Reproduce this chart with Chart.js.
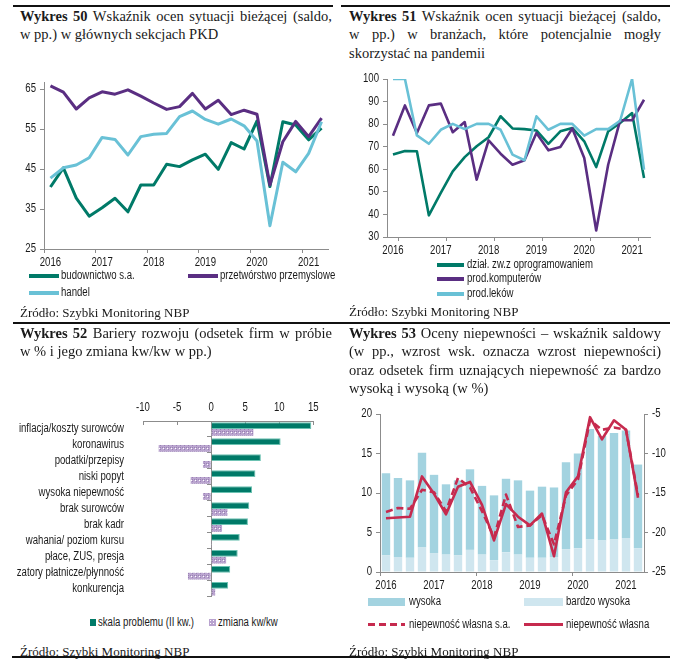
<!DOCTYPE html>
<html lang="pl">
<head>
<meta charset="utf-8">
<script src="https://cdn.jsdelivr.net/npm/chart.js@4.4.1/dist/chart.umd.min.js"></script>
<style>
  body { margin: 0; width: 684px; height: 667px; background: #fff; position: relative; overflow: hidden; }
  .rule { position: absolute; height: 1.5px; background: #111; }
  .title { position: absolute; width: 312px; font-family: 'Liberation Serif', 'Times New Roman', serif; font-size: 14.5px; line-height: 18.3px; color: #1a1a1a; }
  .title div { white-space: nowrap; }
  .title .j { text-align: justify; text-align-last: justify; }
  .src { position: absolute; font-family: 'Liberation Serif', 'Times New Roman', serif; font-size: 13px; line-height: 16px; color: #1a1a1a; white-space: nowrap; }
  .leg { position: absolute; font-family: 'Liberation Sans', Arial, sans-serif; font-size: 12px; line-height: 14px; color: #1a1a1a; white-space: nowrap; transform: scaleX(0.8); transform-origin: 0 0; }
  .sw { position: absolute; }
  canvas { position: absolute; }
</style>
</head>
<body>

<div class="rule" style="left:13px;top:5px;width:320px"></div>
<div class="rule" style="left:341px;top:5px;width:329px"></div>
<div class="rule" style="left:13px;top:322px;width:657px"></div>
<div class="rule" style="left:12px;top:656px;width:658px"></div>

<!-- Wykres 50 -->
<div class="title" style="left:20px;top:7px">
  <div class="j"><b>Wykres 50</b> Wskaźnik ocen sytuacji bieżącej (saldo,</div>
  <div>w pp.) w głównych sekcjach PKD</div>
</div>
<canvas id="c50" width="325" height="200" style="left:10px;top:70px"></canvas>
<div class="sw" style="left:29px;top:274px;width:30px;height:4px;background:#007a68"></div>
<div class="leg" style="left:61px;top:268px">budownictwo s.a.</div>
<div class="sw" style="left:188px;top:274px;width:30px;height:4px;background:#5a2e82"></div>
<div class="leg" style="left:220px;top:268px">przetwórstwo przemyslowe</div>
<div class="sw" style="left:29px;top:291px;width:30px;height:4px;background:#69c1d6"></div>
<div class="leg" style="left:61px;top:285px">handel</div>
<div class="src" style="left:20px;top:305px">Źródło: Szybki Monitoring NBP</div>

<!-- Wykres 51 -->
<div class="title" style="left:349px;top:7px">
  <div class="j"><b>Wykres 51</b> Wskaźnik ocen sytuacji bieżącej (saldo,</div>
  <div class="j">w pp.) w branżach, które potencjalnie mogły</div>
  <div>skorzystać na pandemii</div>
</div>
<canvas id="c51" width="310" height="195" style="left:345px;top:65px"></canvas>
<div class="sw" style="left:437px;top:263px;width:27px;height:4px;background:#007a68"></div>
<div class="leg" style="left:467px;top:257px">dział. zw.z oprogramowaniem</div>
<div class="sw" style="left:437px;top:277px;width:27px;height:4px;background:#5a2e82"></div>
<div class="leg" style="left:467px;top:271px">prod.komputerów</div>
<div class="sw" style="left:437px;top:292px;width:27px;height:4px;background:#69c1d6"></div>
<div class="leg" style="left:467px;top:286px">prod.leków</div>
<div class="src" style="left:349px;top:304px">Źródło: Szybki Monitoring NBP</div>

<!-- Wykres 52 -->
<div class="title" style="left:20px;top:324px">
  <div class="j"><b>Wykres 52</b> Bariery rozwoju (odsetek firm w próbie</div>
  <div>w % i jego zmiana kw/kw w pp.)</div>
</div>
<canvas id="c52" width="320" height="220" style="left:10px;top:395px"></canvas>
<div class="sw" style="left:90px;top:619px;width:6px;height:7px;background:#007a68"></div>
<div class="leg" style="left:98px;top:615px">skala problemu (II kw.)</div>
<div class="sw" style="left:209px;top:619px;width:7px;height:7px;background:#b9a3cf radial-gradient(circle, #fff 0 0.7px, transparent 0.8px) 0 0/3px 3px"></div>
<div class="leg" style="left:218px;top:615px">zmiana kw/kw</div>
<div class="src" style="left:20px;top:644px">Źródło: Szybki Monitoring NBP</div>

<!-- Wykres 53 -->
<div class="title" style="left:349px;top:324px">
  <div class="j"><b>Wykres 53</b> Oceny niepewności – wskaźnik saldowy</div>
  <div class="j">(w pp., wzrost wsk. oznacza wzrost niepewności)</div>
  <div class="j">oraz odsetek firm uznających niepewność za bardzo</div>
  <div>wysoką i wysoką (w %)</div>
</div>
<canvas id="c53" width="335" height="200" style="left:345px;top:400px"></canvas>
<div class="sw" style="left:368px;top:598px;width:37px;height:8px;background:#a3d3e0"></div>
<div class="leg" style="left:409px;top:594px">wysoka</div>
<div class="sw" style="left:524px;top:598px;width:39px;height:8px;background:#cfe6ef"></div>
<div class="leg" style="left:566px;top:594px">bardzo wysoka</div>
<div class="sw" style="left:368px;top:623px;width:37px;height:3px;background:repeating-linear-gradient(90deg,#c62a4e 0 7px,transparent 7px 11px)"></div>
<div class="leg" style="left:409px;top:617px">niepewność własna s.a.</div>
<div class="sw" style="left:524px;top:623px;width:39px;height:3px;background:#c62a4e"></div>
<div class="leg" style="left:566px;top:617px">niepewność własna</div>
<div class="src" style="left:349px;top:644px">Źródło: Szybki Monitoring NBP</div>

<script>
const quarters = ['2016 Q1', '2016 Q2', '2016 Q3', '2016 Q4', '2017 Q1', '2017 Q2', '2017 Q3', '2017 Q4',
  '2018 Q1', '2018 Q2', '2018 Q3', '2018 Q4', '2019 Q1', '2019 Q2', '2019 Q3', '2019 Q4',
  '2020 Q1', '2020 Q2', '2020 Q3', '2020 Q4', '2021 Q1', '2021 Q2'];

// Wykres 50
const budownictwo = [40.5, 45.3, 37.7, 33.2, 35.3, 37.7, 34.3, 41.0, 41.0, 46.2, 45.6, 47.3, 48.7, 44.9, 51.6, 50.0, 57.0, 40.6, 56.8, 56.0, 52.3, 55.2];
const przetworstwo = [65.8, 64.2, 60.0, 62.8, 64.3, 63.7, 64.8, 63.2, 61.5, 59.9, 60.6, 63.9, 60.0, 62.2, 58.6, 59.7, 58.7, 41.0, 51.8, 56.9, 53.1, 57.7];
const handel = [42.7, 45.3, 46.0, 47.8, 52.9, 52.4, 48.5, 53.1, 53.7, 53.9, 58.1, 59.5, 57.4, 56.2, 57.5, 55.8, 52.0, 30.8, 46.7, 44.3, 48.9, 56.8];
const ticks50 = [25, 35, 45, 55, 65];

// Wykres 51
const oprogramowanie = [66.5, 68.1, 68.0, 39.6, 49.5, 59.1, 65.4, 70.2, 74.2, 83.5, 78.1, 77.8, 77.2, 71.3, 76.8, 78.3, 72.4, 61.0, 76.8, 80.5, 84.9, 56.1];
const komputery = [74.9, 88.3, 76.1, 88.3, 89.1, 76.4, 80.9, 55.4, 72.8, 66.9, 62.0, 64.0, 76.1, 68.4, 69.9, 78.1, 65.0, 32.9, 62.0, 81.7, 81.7, 90.8];
const leki = [100, 100, 75.0, 71.3, 77.5, 80.1, 77.8, 80.1, 80.1, 77.5, 66.5, 64.0, 83.5, 77.5, 80.1, 80.1, 74.9, 77.8, 77.8, 81.5, 100, 59.8];
const ticks51 = [30, 40, 50, 60, 70, 80, 90, 100];

// Wykres 52
const bariery = ['inflacja/koszty surowców', 'koronawirus', 'podatki/przepisy', 'niski popyt', 'wysoka niepewność',
  'brak surowców', 'brak kadr', 'wahania/ poziom kursu', 'płace, ZUS, presja', 'zatory płatnicze/płynność', 'konkurencja'];
const skala = [14.7, 10.2, 7.3, 6.5, 6.0, 5.6, 5.4, 4.2, 3.9, 2.8, 2.5];
const zmiana = [6.2, -7.7, -1.2, -3.0, -1.2, 2.4, 1.6, 0.1, 2.2, -3.4, 0.6];

// Wykres 53
const bardzoWysoka = [2.1, 1.9, 1.8, 3.1, 2.4, 2.2, 2.1, 2.8, 2.2, 1.5, 2.5, 2.2, 1.8, 1.8, 1.9, 2.9, 3.0, 4.1, 4.0, 4.1, 4.3, 3.0];
const wysoka = [10.4, 10.0, 9.8, 12.0, 9.9, 8.9, 9.5, 10.2, 8.7, 8.2, 9.3, 9.4, 8.5, 9.0, 8.8, 11.0, 12.0, 14.0, 13.2, 13.5, 13.6, 10.6];
const niepewnoscSA = [-17.4, -16.9, -17.0, -14.6, -14.9, -17.3, -13.1, -14.3, -17.3, -20.6, -15.2, -19.3, -19.1, -17.8, -21.5, -15.3, -13.3, -5.8, -7.0, -6.7, -7.0, -15.3];
const niepewnosc = [-18.2, -18.1, -18.0, -12.9, -15.1, -17.7, -14.2, -13.6, -16.5, -21.0, -16.4, -18.0, -19.1, -17.6, -23.0, -14.9, -12.9, -5.4, -8.2, -5.8, -7.0, -15.6];
const ticks53 = [0, 5, 10, 15, 20];
const ticks53r = [-25, -20, -15, -10, -5];

const teal = '#007a68';
const purple = '#5a2e82';
const lightBlue = '#69c1d6';
const red = '#c62a4e';
const axisColor = '#8c8c8c';
const textColor = '#1a1a1a';
const tickFont = { family: "'Liberation Sans', Arial, sans-serif", size: 12 };

// the original uses a narrow sans font; squeeze canvas text horizontally around its anchor
function narrowText(canvas, k) {
    const ctx = canvas.getContext('2d');
    const fill = ctx.fillText.bind(ctx);
    ctx.fillText = function (text, x, y, maxWidth) {
        this.save();
        this.translate(x, y);
        this.scale(k, 1);
        if (maxWidth === undefined) fill(text, 0, 0); else fill(text, 0, 0, maxWidth);
        this.restore();
    };
    return canvas;
}

function quarterAxis(markEvery, markAt, height) {
    return {
        type: 'category',
        offset: true,
        afterFit: s => { s.height = height; },
        grid: {
            drawOnChartArea: false, offset: true, tickLength: 4,
            color: c => (c.type === 'tick' && c.index % markEvery === markAt) ? axisColor : 'rgba(0,0,0,0)'
        },
        border: { color: axisColor },
        ticks: {
            autoSkip: false, maxRotation: 0, padding: 2, font: tickFont, color: textColor,
            callback: (v, i) => i % 4 === 0 ? quarters[i].slice(0, 4) : ''
        }
    };
}

function valueAxis(min, max, tickList, width, position) {
    return {
        position: position || 'left',
        min: min,
        max: max,
        afterBuildTicks: s => { s.ticks = tickList.map(v => ({ value: v })); },
        afterFit: s => { s.width = width; },
        grid: { drawOnChartArea: false, tickLength: 4, color: axisColor },
        border: { color: axisColor },
        ticks: { padding: 4, font: tickFont, color: textColor }
    };
}

function baseOptions(padding, scales) {
    return {
        responsive: false,
        animation: false,
        layout: { padding: padding },
        plugins: { legend: { display: false }, tooltip: { enabled: false } },
        elements: {
            point: { radius: 0 },
            line: { borderWidth: 3, tension: 0, borderJoinStyle: 'round' }
        },
        scales: scales
    };
}

new Chart(narrowText(document.getElementById('c50'), 0.8), {
    type: 'line',
    data: {
        labels: quarters,
        datasets: [
            { label: 'budownictwo s.a.', data: budownictwo, borderColor: teal, order: 3 },
            { label: 'przetwórstwo przemyslowe', data: przetworstwo, borderColor: purple, order: 2 },
            { label: 'handel', data: handel, borderColor: lightBlue, order: 1 }
        ]
    },
    options: baseOptions({ top: 12, right: 7, left: 0, bottom: 0 }, {
        x: quarterAxis(4, 0, 21),
        y: valueAxis(25, 66.75, ticks50, 34)
    })
});

new Chart(narrowText(document.getElementById('c51'), 0.8), {
    type: 'line',
    data: {
        labels: quarters,
        datasets: [
            { label: 'dział. zw.z oprogramowaniem', data: oprogramowanie, borderColor: teal, borderWidth: 2.6, order: 3 },
            { label: 'prod.komputerów', data: komputery, borderColor: purple, borderWidth: 2.6, order: 2 },
            { label: 'prod.leków', data: leki, borderColor: lightBlue, borderWidth: 2.6, order: 1 }
        ]
    },
    options: baseOptions({ top: 14, right: 5, left: 0, bottom: 0 }, {
        x: quarterAxis(4, 1, 23),
        y: valueAxis(30, 100, ticks51, 42)
    })
});

function dotPattern() {
    const c = document.createElement('canvas');
    c.width = 4;
    c.height = 4;
    const g = c.getContext('2d');
    g.fillStyle = '#bba6d0';
    g.fillRect(0, 0, 4, 4);
    g.fillStyle = '#9a82b4';
    g.fillRect(0, 0, 1, 1);
    g.fillRect(2, 2, 1, 1);
    g.fillRect(2, 0, 1, 1);
    g.fillStyle = '#ffffff';
    g.fillRect(1, 1, 1, 1);
    return g.createPattern(c, 'repeat');
}

new Chart(narrowText(document.getElementById('c52'), 0.8), {
    type: 'bar',
    data: {
        labels: bariery,
        datasets: [
            { label: 'skala problemu (II kw.)', data: skala, backgroundColor: teal, borderColor: '#6cc2b2', borderWidth: 1 },
            { label: 'zmiana kw/kw', data: zmiana, backgroundColor: dotPattern(), borderWidth: 0 }
        ]
    },
    options: {
        indexAxis: 'y',
        responsive: false,
        animation: false,
        layout: { padding: { top: 0, right: 10, bottom: 3, left: 0 } },
        plugins: { legend: { display: false }, tooltip: { enabled: false } },
        datasets: { bar: { categoryPercentage: 0.845, barPercentage: 1 } },
        scales: {
            x: {
                type: 'linear', position: 'top', min: -10, max: 15,
                afterFit: s => { s.height = 26; },
                grid: { drawOnChartArea: false, tickLength: -4, color: axisColor },
                border: { color: axisColor },
                ticks: { stepSize: 5, padding: 10, font: tickFont, color: textColor }
            },
            y: {
                type: 'category', offset: true,
                afterFit: s => { s.width = 133; },
                grid: { display: false },
                border: { display: false },
                ticks: { autoSkip: false, padding: 11, font: tickFont, color: textColor }
            },
            y0: {
                type: 'category', axis: 'y', offset: true, position: { x: 0 },
                grid: { drawOnChartArea: false, offset: true, tickLength: 4, color: axisColor },
                border: { color: axisColor },
                ticks: { display: false }
            }
        }
    }
});

const x53 = quarterAxis(8, 0, 28);
x53.stacked = true;
const y53 = valueAxis(0, 20, ticks53, 35);
y53.stacked = true;

new Chart(narrowText(document.getElementById('c53'), 0.8), {
    type: 'bar',
    data: {
        labels: quarters,
        datasets: [
            { label: 'bardzo wysoka', data: bardzoWysoka, backgroundColor: '#cfe6ef', yAxisID: 'y', order: 3 },
            { label: 'wysoka', data: wysoka, backgroundColor: '#a3d3e0', yAxisID: 'y', order: 3 },
            { type: 'line', label: 'niepewność własna s.a.', data: niepewnoscSA, borderColor: red, borderWidth: 2.6, borderDash: [7, 4], yAxisID: 'y2', order: 2 },
            { type: 'line', label: 'niepewność własna', data: niepewnosc, borderColor: red, borderWidth: 2.6, yAxisID: 'y2', order: 1 }
        ]
    },
    options: Object.assign(baseOptions({ top: 14, right: 0, left: 0, bottom: 0 }, {
        x: x53,
        y: y53,
        y2: valueAxis(-25, -5, ticks53r, 36, 'right')
    }), { datasets: { bar: { categoryPercentage: 0.7, barPercentage: 1 } } })
});
</script>
</body>
</html>
